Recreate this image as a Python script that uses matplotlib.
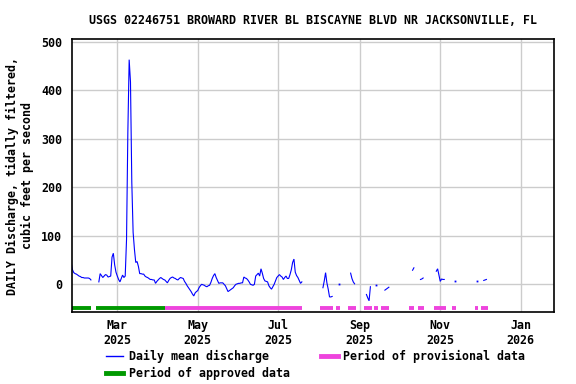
import matplotlib
matplotlib.use("Agg")
import matplotlib.pyplot as plt
import matplotlib.dates as mdates
from matplotlib.lines import Line2D
import numpy as np
import pandas as pd

title = "USGS 02246751 BROWARD RIVER BL BISCAYNE BLVD NR JACKSONVILLE, FL"
ylabel = "DAILY Discharge, tidally filtered,\ncubic feet per second"

# Daily mean discharge: contiguous daily segments (start date + daily values)
seg_starts = ["2025-01-25", "2025-02-15", "2025-08-04", "2025-08-16",
              "2025-08-25", "2025-09-06", "2025-09-13", "2025-09-20",
              "2025-10-11", "2025-10-17", "2025-10-29", "2025-11-12",
              "2025-11-29", "2025-12-04"]
seg_values = [
    [45, 30, 24, 22, 21, 19, 17, 16, 14, 14, 13, 13, 13, 13, 12, 9],
    [5, 22, 18, 14, 17, 20, 19, 15, 16, 17, 56, 64, 40, 25, 17, 10, 5, 12, 19,
     14, 17, 92, 313, 463, 417, 210, 107, 72, 45, 47, 37, 22, 22, 21, 21, 17,
     15, 14, 12, 10, 10, 9, 9, 2, 6, 9, 12, 14, 12, 10, 9, 6, 3, 8, 12, 14, 15,
     13, 12, 10, 9, 12, 14, 13, 12, 6, 2, -3, -7, -11, -15, -20, -24, -18, -15,
     -13, -7, -3, 0, -1, -2, -4, -5, -3, -2, 4, 12, 18, 22, 14, 8, 2, 3, 3, 3,
     0, -3, -9, -15, -13, -11, -9, -7, -3, 0, 1, 2, 2, 3, 3, 15, 13, 12, 9, 5,
     0, -1, -2, 0, 17, 20, 23, 17, 32, 23, 12, 7, 6, 5, -3, -7, -10, -5, 0, 7,
     14, 17, 20, 17, 15, 10, 14, 17, 12, 12, 20, 30, 45, 52, 25, 18, 14, 8, 2, 5],
    [-7, 7, 24, 3, -10, -26, -26, -25],
    [1],
    [23, 12, 5, 1],
    [-21, -28, -34, -5],
    [-1],
    [-12, -10, -8, -6],
    [29, 34],
    [10, 11, 13],
    [27, 32, 19, 6, 11, 10, 10],
    [6],
    [7],
    [8, 9, 10],
]

approved_start = ["2025-01-25", "2025-02-13"]
approved_end = ["2025-02-09", "2025-04-06"]
provisional_start = ["2025-04-06", "2025-08-02", "2025-08-14", "2025-08-23",
                     "2025-09-04", "2025-09-12", "2025-09-17", "2025-10-08",
                     "2025-10-15", "2025-10-27", "2025-11-10", "2025-11-27",
                     "2025-12-02"]
provisional_end = ["2025-07-19", "2025-08-12", "2025-08-17", "2025-08-29",
                   "2025-09-10", "2025-09-15", "2025-09-23", "2025-10-12",
                   "2025-10-20", "2025-11-05", "2025-11-13", "2025-11-30",
                   "2025-12-07"]

tick_dates = ["2025-03-01", "2025-05-01", "2025-07-01", "2025-09-01",
              "2025-11-01", "2026-01-01"]
tick_labels = ["Mar\n2025", "May\n2025", "Jul\n2025", "Sep\n2025",
               "Nov\n2025", "Jan\n2026"]
yticks = [0, 100, 200, 300, 400, 500]

FONT = "DejaVu Sans Mono"
FS = 8.4
BLUE = "#0000ff"
GREEN = "#009900"
PINK = "#ee44dd"
BAR_LEVEL = -48

plt.rcParams['font.family'] = [FONT]
plt.rcParams['font.weight'] = 'bold'
plt.rcParams['font.size'] = FS

fig = plt.figure(figsize=(5.76, 3.84), dpi=100)
ax = fig.add_axes([0.1245, 0.1867, 0.9623 - 0.1245, 0.8977 - 0.1867])

ax.grid(True, color="#cccccc", lw=1.0)
ax.set_axisbelow(True)

for s, vals in zip(seg_starts, seg_values):
    d = pd.date_range(s, periods=len(vals), freq="D")
    if len(vals) > 1:
        ax.plot(d, vals, color=BLUE, lw=0.8, solid_joinstyle='miter')
    else:
        ax.plot(d, vals, color=BLUE, marker='s', ms=1.3, ls='none', mew=0)

for s, e in zip(approved_start, approved_end):
    ax.hlines(BAR_LEVEL, pd.Timestamp(s), pd.Timestamp(e), color=GREEN,
              lw=2.8, capstyle='butt')
for s, e in zip(provisional_start, provisional_end):
    ax.hlines(BAR_LEVEL, pd.Timestamp(s), pd.Timestamp(e), color=PINK,
              lw=2.8, capstyle='butt')

ax.set_xlim(pd.Timestamp("2025-01-25 10:00"), pd.Timestamp("2026-01-26 12:00"))
ax.set_ylim(-57.7, 505)
ax.set_xticks(pd.to_datetime(tick_dates))
ax.set_xticklabels(tick_labels)
ax.set_yticks(yticks)
ax.tick_params(axis='both', length=0, labelsize=FS)
ax.tick_params(axis='x', pad=5)
ax.tick_params(axis='y', pad=7)
for sp in ax.spines.values():
    sp.set_color("black")
    sp.set_linewidth(1.2)

ax.set_title(title, fontsize=FS, fontweight='bold', pad=11)
ax.set_ylabel(ylabel, fontsize=FS, fontweight='bold', labelpad=5)

handles = [Line2D([], [], color=BLUE, lw=1.0),
           Line2D([], [], color=GREEN, lw=3.5),
           Line2D([], [], color=PINK, lw=3.5)]
labels = ["Daily mean discharge", "Period of approved data",
          "Period of provisional data"]
fig.legend(handles, labels, loc='upper left',
           bbox_to_anchor=(106 / 576, 1 - 349.5 / 384), ncol=2, frameon=False,
           borderpad=0, borderaxespad=0, handlelength=1.45, handletextpad=0.5,
           columnspacing=2.65, labelspacing=0.35, fontsize=FS)

fig.savefig("out.png", dpi=100)
